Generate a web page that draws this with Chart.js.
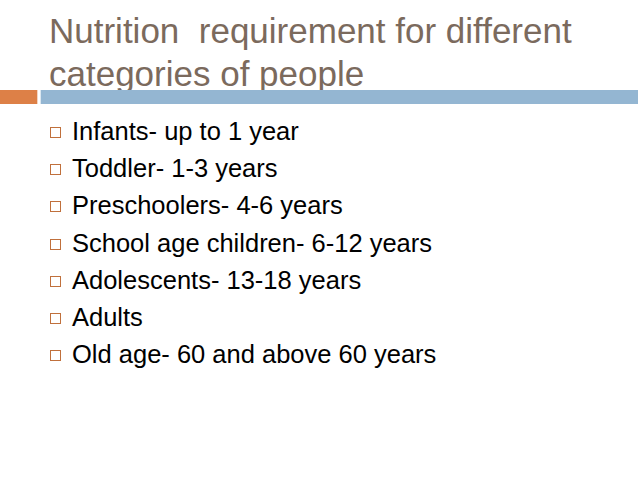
<!DOCTYPE html>
<html><head><meta charset="utf-8">
<script src="https://cdn.jsdelivr.net/npm/chart.js@4"></script>
<style>
body{margin:0;width:638px;height:479px;background:#fff;position:relative;overflow:hidden;font-family:"Liberation Sans",Arial,sans-serif}
#title{position:absolute;left:49px;top:9px;font-size:35px;line-height:43px;color:#7b6a5d}
#wrap{position:absolute;left:0;top:90px;width:638px;height:14px}
ul{position:absolute;left:50px;top:114px;margin:0;padding:0;list-style:none;font-size:25.5px;color:#000}
li{height:37.2px;line-height:34px;position:relative;padding-left:22px}
li:before{content:"";position:absolute;left:0;top:13px;width:9px;height:9px;border:1px solid #c0703c}
</style></head><body>
<div id="title">Nutrition&nbsp; requirement for different<br>categories of people</div>
<div id="wrap"><canvas id="c"></canvas></div>
<ul id="list"></ul>
<script>
const categories=["band"];
const orangeSeg=[37];
const gapSeg=[4];
const blueSeg=[597];
const items=["Infants- up to 1 year","Toddler- 1-3 years","Preschoolers- 4-6 years","School age children- 6-12 years","Adolescents- 13-18 years","Adults","Old age- 60 and above 60 years"];
const ul=document.getElementById('list');
items.forEach(t=>{const li=document.createElement('li');li.textContent=t;ul.appendChild(li);});
new Chart(document.getElementById('c'),{type:'bar',
data:{labels:categories,datasets:[
{data:orangeSeg,backgroundColor:'#dd8047'},
{data:gapSeg,backgroundColor:'rgba(0,0,0,0)'},
{data:blueSeg,backgroundColor:'#94b6d2'}]},
options:{indexAxis:'y',responsive:true,maintainAspectRatio:false,animation:false,
barPercentage:1,categoryPercentage:1,layout:{padding:0},
plugins:{legend:{display:false},tooltip:{enabled:false}},
scales:{x:{stacked:true,min:0,max:638,display:false},y:{stacked:true,display:false}}}});
</script></body></html>
